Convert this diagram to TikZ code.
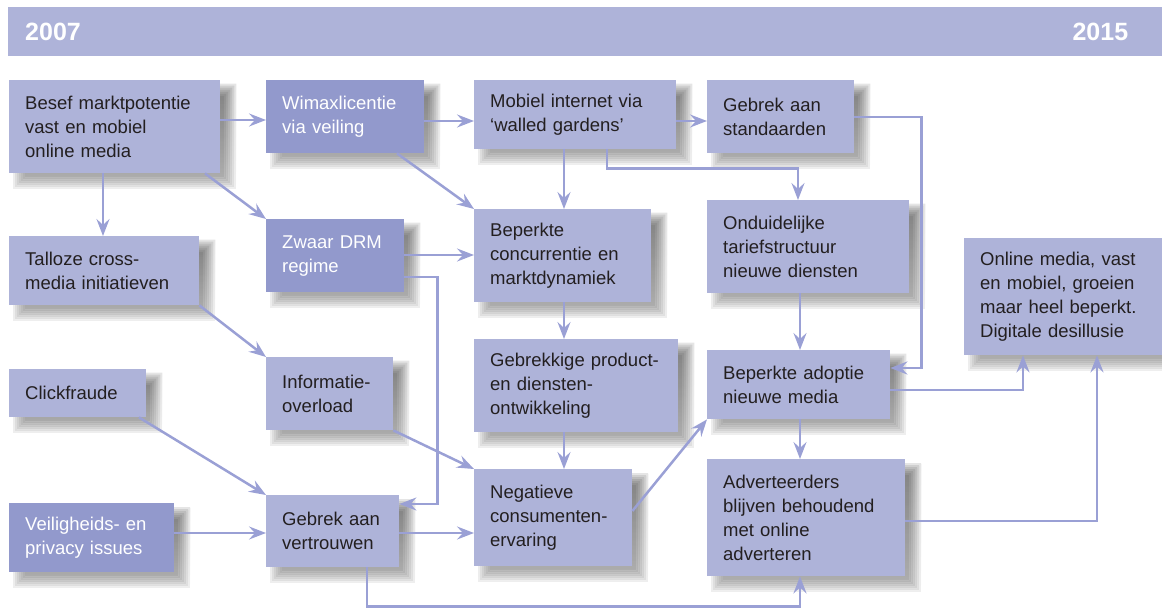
\documentclass[tikz,border=0pt]{standalone}
\usepackage{fontspec}
\setmainfont{Liberation Sans}
\usetikzlibrary{arrows.meta,backgrounds}
\definecolor{lilac}{HTML}{AEB3D9}
\definecolor{deeplilac}{HTML}{9299CC}
\definecolor{arrowlilac}{HTML}{9AA0D5}
\definecolor{shade}{HTML}{C2C6E6}
\definecolor{ink}{HTML}{231F20}
\tikzset{
  >={Stealth[length=17pt,width=13pt,inset=6pt]},
  box/.style    ={fill=lilac,text=ink,anchor=north west,align=left,
                  inner xsep=16pt,inner ysep=0pt,
                  font=\fontsize{18.5}{24}\selectfont},
  darkbox/.style={box,fill=deeplilac,text=white},
  flow/.style   ={->,draw=arrowlilac,line width=2.5pt},
  year/.style   ={font=\fontsize{25}{28}\selectfont\bfseries,text=white,inner sep=0pt},
}

\begin{document}
\begin{tikzpicture}[x=1pt,y=-1pt]
\useasboundingbox (0,0) rectangle (1162,609);
% time bar
\node[fill=lilac,anchor=north west,minimum width=1154pt,minimum height=49pt,inner sep=0pt] (bar) at (8,7) {};
\node[year,anchor=west] (y2007) at ([xshift=17pt]bar.west) {2007};
\node[year,anchor=east] (y2015) at ([xshift=-34pt]bar.east) {2015};
% first row
\node[box,minimum width=211pt,minimum height=93pt,text width=179pt] (besef) at (9,80)
 {Besef marktpotentie\\vast en mobiel\\online media};
\node[darkbox,minimum width=158pt,minimum height=73pt,text width=126pt] (wimax) at (266,80)
 {Wimaxlicentie\\via veiling};
\node[box,minimum width=202pt,minimum height=69pt,text width=170pt] (mobiel) at (474,80)
 {Mobiel internet via\\‘walled gardens’};
\node[box,minimum width=147pt,minimum height=73pt,text width=115pt] (standaard) at (707,80)
 {Gebrek aan\\standaarden};
% second row
\node[box,minimum width=190pt,minimum height=69pt,text width=158pt] (talloze) at (9,236)
 {Talloze cross-\\media initiatieven};
\node[darkbox,minimum width=138pt,minimum height=73pt,text width=106pt] (drm) at (266,219)
 {Zwaar DRM\\regime};
\node[box,minimum width=177pt,minimum height=93pt,text width=145pt] (concur) at (474,209)
 {Beperkte\\concurrentie en\\marktdynamiek};
\node[box,minimum width=202pt,minimum height=93pt,text width=170pt] (ondui) at (707,200)
 {Onduidelijke\\tariefstructuur\\nieuwe diensten};
\node[box,minimum width=198pt,minimum height=117pt,text width=166pt] (online) at (964,238)
 {Online media, vast\\en mobiel, groeien\\maar heel beperkt.\\Digitale desillusie};
% third row
\node[box,minimum width=137pt,minimum height=48pt,text width=105pt] (click) at (9,369)
 {Clickfraude};
\node[box,minimum width=127pt,minimum height=73pt,text width=95pt] (info) at (266,357)
 {Informatie-\\overload};
\node[box,minimum width=204pt,minimum height=93pt,text width=172pt] (product) at (474,339)
 {Gebrekkige product-\\en diensten-\\ontwikkeling};
\node[box,minimum width=183pt,minimum height=69pt,text width=151pt] (adoptie) at (707,350)
 {Beperkte adoptie\\nieuwe media};
% fourth row
\node[darkbox,minimum width=165pt,minimum height=69pt,text width=133pt] (veilig) at (9,503)
 {Veiligheids- en\\privacy issues};
\node[box,minimum width=133pt,minimum height=72pt,text width=101pt] (vertrouwen) at (266,495)
 {Gebrek aan\\vertrouwen};
\node[box,minimum width=158pt,minimum height=97pt,text width=126pt] (negatief) at (474,469)
 {Negatieve\\consumenten-\\ervaring};
\node[box,minimum width=198pt,minimum height=117pt,text width=166pt] (adverteer) at (707,459)
 {Adverteerders\\blijven behoudend\\met online\\adverteren};
% soft shadows
\begin{scope}[on background layer]
\foreach \n in {besef,wimax,mobiel,standaard,talloze,drm,concur,ondui,online,
                click,info,product,adoptie,veilig,vertrouwen,negatief,adverteer}
  \foreach \s in {4,6,...,16}
    \fill[shade,opacity=.07] ([shift={(\s,\s)}]\n.north west) rectangle ([shift={(20-\s,20-\s)}]\n.south east);
\end{scope}
% connectors
\draw[flow] (besef.east |- 0,120) -- (wimax.west |- 0,120);
\draw[flow] (wimax.east |- 0,121) -- (mobiel.west |- 0,121);
\draw[flow] (mobiel.east |- 0,121) -- (standaard.west |- 0,121);
\draw[flow] (besef.south -| 103,0) -- (talloze.north -| 103,0);
\draw[flow] (besef.south -| 205,0) -- (drm.north west);
\draw[flow] (wimax.south -| 397,0) -- (concur.north west);
\draw[flow] (mobiel.south -| 564,0) -- (concur.north -| 564,0);
\draw[flow] (mobiel.south -| 607,0) -- ++(0,19) -| (ondui.north -| 798,0);
\draw[flow] (standaard.east |- 0,117) -- ++(67,0) |- (adoptie.east |- 0,368);
\draw[flow] (drm.east |- 0,255) -- (concur.west |- 0,255);
\draw[flow] (drm.east |- 0,277) -- ++(33,0) |- (vertrouwen.east |- 0,504);
\draw[flow] (talloze.south east) -- (info.north west);
\draw[flow] (concur.south -| 564,0) -- (product.north -| 564,0);
\draw[flow] (ondui.south -| 800,0) -- (adoptie.north -| 800,0);
\draw[flow] (info.south east) -- (negatief.north west);
\draw[flow] (product.south -| 564,0) -- (negatief.north -| 564,0);
\draw[flow] (click.south -| 139,0) -- (vertrouwen.north west);
\draw[flow] (veilig.east |- 0,533) -- (vertrouwen.west |- 0,533);
\draw[flow] (vertrouwen.east |- 0,533) -- (negatief.west |- 0,533);
\draw[flow] (negatief.east |- 0,511) -- (adoptie.south west);
\draw[flow] (adoptie.south -| 800,0) -- (adverteer.north -| 800,0);
\draw[flow] (adoptie.east |- 0,390) -| (online.south -| 1023,0);
\draw[flow] (adverteer.east |- 0,521) -| (online.south -| 1097,0);
\draw[flow] (vertrouwen.south -| 367,0) -- ++(0,39) -| (adverteer.south -| 800,0);
\end{tikzpicture}
\end{document}
